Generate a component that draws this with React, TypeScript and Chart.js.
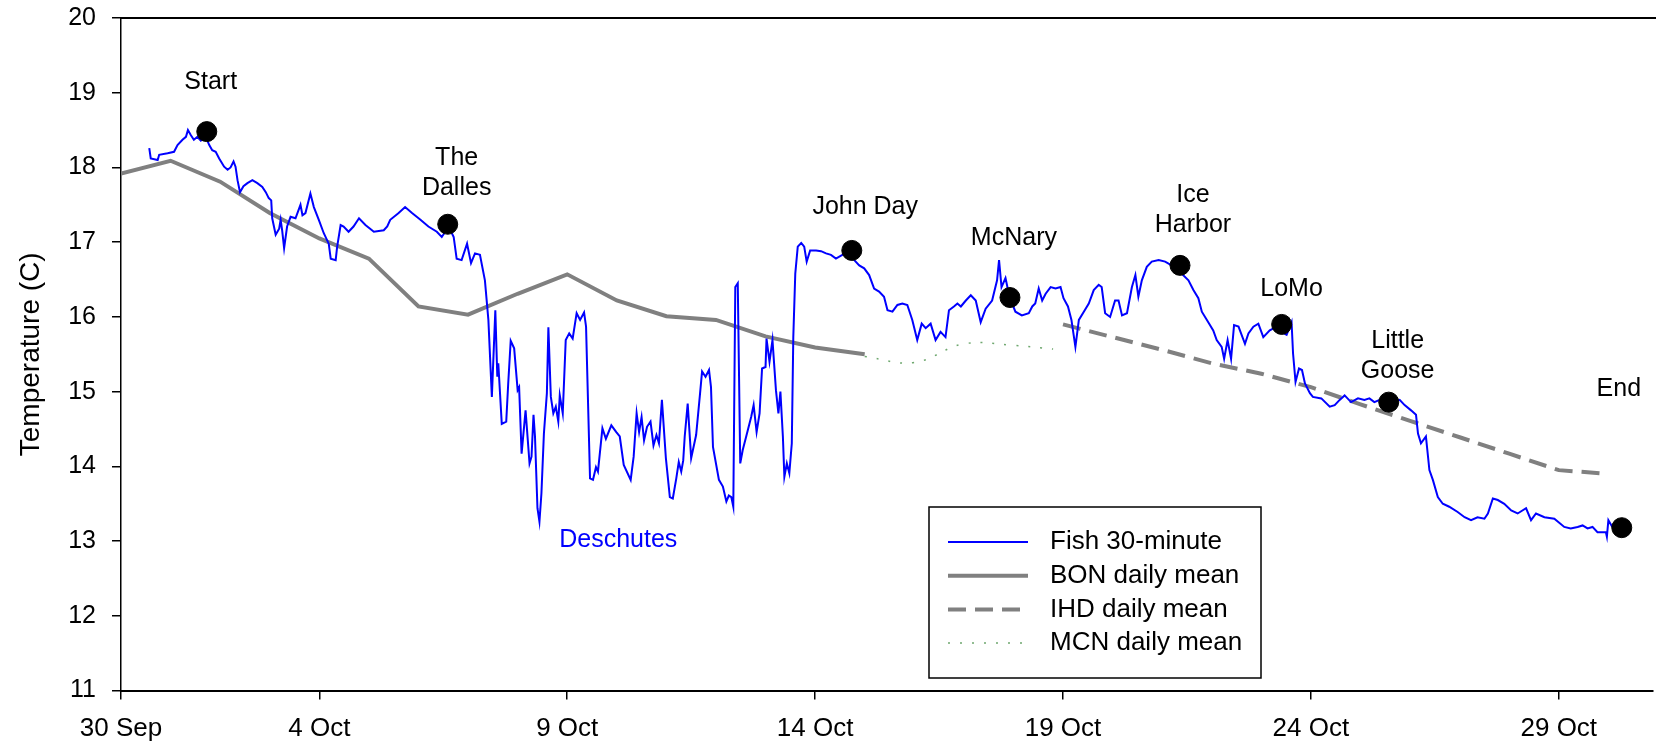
import React, { useEffect, useRef } from "react";
import { Chart, registerables } from "chart.js";

Chart.register(...registerables);

const FONT = "'Liberation Sans', Arial, sans-serif";

// Axis setup
const tickDays = [0, 4, 9, 14, 19, 24, 29];
const tickLabels = ["30 Sep", "4 Oct", "9 Oct", "14 Oct", "19 Oct", "24 Oct", "29 Oct"];
const xMin = 0;
const xMax = 30.9;
const yMin = 11;
const yMax = 20;

// Fish 30-minute temperature (days after 30 Sep, deg C)
const fishDays = [
  0.57, 0.6, 0.74, 0.77, 0.94, 1.07, 1.14, 1.24, 1.31, 1.35, 1.41, 1.47, 1.54, 1.61, 1.71, 1.78, 1.84, 1.91, 1.98,
  2.08, 2.15, 2.21, 2.27, 2.31, 2.35, 2.4, 2.47, 2.55, 2.65, 2.75, 2.85, 2.92, 2.98, 3.03, 3.05, 3.12, 3.19, 3.22,
  3.25, 3.29, 3.35, 3.42, 3.52, 3.62, 3.66, 3.72, 3.82, 3.89, 3.99, 4.09, 4.19, 4.23, 4.33, 4.36, 4.43, 4.49, 4.59,
  4.69, 4.8, 4.93, 5.1, 5.3, 5.37, 5.43, 5.6, 5.73, 5.87, 6.04, 6.2, 6.37, 6.47, 6.61, 6.71, 6.77, 6.87, 6.98, 7.06,
  7.14, 7.24, 7.34, 7.41, 7.48, 7.55, 7.59, 7.61, 7.68, 7.77, 7.81, 7.86, 7.93, 8.0, 8.03, 8.08, 8.16, 8.24, 8.28,
  8.32, 8.35, 8.4, 8.44, 8.48, 8.53, 8.59, 8.62, 8.67, 8.72, 8.77, 8.82, 8.85, 8.91, 8.97, 9.04, 9.11, 9.19, 9.26,
  9.34, 9.38, 9.46, 9.52, 9.58, 9.62, 9.71, 9.78, 9.89, 9.99, 10.06, 10.14, 10.28, 10.34, 10.4, 10.45, 10.5, 10.55,
  10.61, 10.68, 10.74, 10.8, 10.85, 10.91, 10.99, 11.07, 11.13, 11.2, 11.25, 11.3, 11.34, 11.37, 11.43, 11.5, 11.6,
  11.68, 11.72, 11.79, 11.86, 11.9, 11.94, 12.06, 12.14, 12.21, 12.26, 12.31, 12.35, 12.39, 12.44, 12.49, 12.54,
  12.61, 12.71, 12.76, 12.82, 12.88, 12.93, 13.0, 13.02, 13.08, 13.14, 13.21, 13.26, 13.3, 13.35, 13.38, 13.43,
  13.48, 13.53, 13.56, 13.6, 13.65, 13.72, 13.78, 13.83, 13.9, 14.02, 14.12, 14.22, 14.32, 14.42, 14.55, 14.65,
  14.79, 14.89, 14.99, 15.09, 15.19, 15.29, 15.39, 15.46, 15.56, 15.66, 15.76, 15.86, 15.96, 16.06, 16.15, 16.23,
  16.33, 16.43, 16.53, 16.63, 16.7, 16.8, 16.87, 16.94, 17.04, 17.14, 17.24, 17.34, 17.44, 17.57, 17.67, 17.71,
  17.76, 17.84, 17.92, 18.04, 18.17, 18.31, 18.38, 18.44, 18.51, 18.58, 18.65, 18.75, 18.85, 18.95, 19.01, 19.1,
  19.17, 19.25, 19.32, 19.42, 19.52, 19.62, 19.72, 19.78, 19.85, 19.95, 20.05, 20.12, 20.19, 20.29, 20.39, 20.46,
  20.52, 20.59, 20.69, 20.79, 20.93, 21.06, 21.19, 21.39, 21.53, 21.63, 21.73, 21.8, 21.93, 22.03, 22.1, 22.2,
  22.25, 22.32, 22.39, 22.45, 22.54, 22.67, 22.74, 22.84, 22.94, 23.04, 23.17, 23.31, 23.41, 23.51, 23.61, 23.64,
  23.69, 23.76, 23.82, 23.88, 23.98, 24.04, 24.21, 24.38, 24.48, 24.58, 24.68, 24.81, 24.95, 25.08, 25.18, 25.28,
  25.39, 25.55, 25.79, 25.89, 26.02, 26.12, 26.16, 26.22, 26.32, 26.39, 26.46, 26.56, 26.66, 26.79, 26.96, 27.1,
  27.23, 27.36, 27.5, 27.57, 27.67, 27.77, 27.9, 28.04, 28.17, 28.34, 28.44, 28.54, 28.71, 28.91, 29.11, 29.24,
  29.38, 29.48, 29.58, 29.68, 29.78, 29.95, 29.97, 30.0, 30.08,
];
const fishTemps = [
  18.26, 18.12, 18.1, 18.17, 18.19, 18.21, 18.3, 18.37, 18.41, 18.5, 18.43, 18.37, 18.41, 18.36, 18.41, 18.3, 18.23,
  18.21, 18.12, 18.01, 17.97, 18.0, 18.08, 18.01, 17.83, 17.67, 17.75, 17.79, 17.83, 17.79, 17.74, 17.67, 17.59,
  17.56, 17.32, 17.1, 17.18, 17.3, 17.16, 16.92, 17.21, 17.34, 17.32, 17.5, 17.36, 17.39, 17.65, 17.47, 17.3, 17.12,
  16.98, 16.78, 16.76, 16.94, 17.23, 17.21, 17.14, 17.21, 17.32, 17.23, 17.14, 17.16, 17.21, 17.3, 17.39, 17.47,
  17.39, 17.3, 17.21, 17.14, 17.07, 17.21, 17.07, 16.78, 16.76, 16.98, 16.72, 16.85, 16.83, 16.49, 15.96, 14.93,
  16.09, 15.2, 15.38, 14.57, 14.6, 15.11, 15.68, 15.58, 15.02, 15.06, 14.17, 14.75, 14.04, 14.13, 14.69, 14.4, 13.44,
  13.26, 13.64, 14.44, 14.98, 15.86, 14.93, 14.71, 14.8, 14.6, 14.95, 14.71, 15.69, 15.78, 15.71, 16.05, 15.96,
  16.06, 15.87, 13.84, 13.82, 13.99, 13.93, 14.51, 14.37, 14.55, 14.46, 14.4, 14.02, 13.82, 14.13, 14.71, 14.46,
  14.66, 14.35, 14.53, 14.6, 14.28, 14.42, 14.31, 14.89, 14.11, 13.59, 13.57, 13.84, 14.06, 13.93, 14.08, 14.4,
  14.84, 14.11, 14.42, 14.98, 15.27, 15.2, 15.29, 15.06, 14.26, 13.82, 13.73, 13.53, 13.61, 13.59, 13.46, 16.4,
  16.45, 14.04, 14.22, 14.4, 14.66, 14.82, 14.46, 14.71, 15.31, 15.33, 15.71, 15.4, 15.69, 15.02, 14.71, 15.0, 14.4,
  13.86, 14.04, 13.91, 14.31, 15.73, 16.58, 16.94, 16.99, 16.94, 16.74, 16.89, 16.89, 16.88, 16.85, 16.83, 16.78,
  16.83, 16.87, 16.76, 16.69, 16.65, 16.56, 16.38, 16.34, 16.27, 16.09, 16.07, 16.16, 16.18, 16.16, 15.96, 15.69,
  15.91, 15.85, 15.91, 15.69, 15.8, 15.73, 16.09, 16.14, 16.18, 16.14, 16.22, 16.29, 16.22, 15.93, 16.11, 16.22,
  16.49, 16.76, 16.4, 16.52, 16.27, 16.07, 16.02, 16.05, 16.14, 16.18, 16.38, 16.22, 16.31, 16.4, 16.38, 16.4,
  16.25, 16.14, 15.96, 15.6, 15.96, 16.07, 16.18, 16.36, 16.43, 16.4, 16.05, 16.0, 16.22, 16.22, 16.02, 16.05,
  16.4, 16.56, 16.27, 16.49, 16.67, 16.74, 16.76, 16.74, 16.69, 16.58, 16.49, 16.36, 16.25, 16.07, 15.93, 15.82,
  15.69, 15.6, 15.44, 15.69, 15.44, 15.89, 15.87, 15.64, 15.78, 15.87, 15.91, 15.73, 15.82, 15.87, 15.8, 15.76,
  15.93, 15.51, 15.13, 15.31, 15.29, 15.11, 14.98, 14.93, 14.91, 14.8, 14.82, 14.89, 14.95, 14.86, 14.91, 14.89,
  14.91, 14.86, 14.89, 14.85, 14.89, 14.82, 14.75, 14.69, 14.44, 14.31, 14.4, 13.95, 13.82, 13.59, 13.5, 13.46,
  13.39, 13.32, 13.28, 13.32, 13.3, 13.37, 13.57, 13.55, 13.5, 13.41, 13.37, 13.44, 13.28, 13.37, 13.32, 13.3,
  13.19, 13.17, 13.19, 13.21, 13.17, 13.19, 13.12, 13.12, 13.06, 13.28, 13.19,
];

// BON daily mean
const bonDays = [0, 1, 2, 3, 4, 5, 6, 7, 8, 9, 10, 11, 12, 13, 14, 15];
const bonTemps = [17.92, 18.09, 17.81, 17.39, 17.05, 16.78, 16.14, 16.03, 16.31, 16.57, 16.22, 16.01, 15.96, 15.74, 15.59, 15.5];

// MCN daily mean
const mcnDays = [15, 16, 17, 18, 18.8];
const mcnTemps = [15.47, 15.39, 15.64, 15.62, 15.57];

// IHD daily mean
const ihdDays = [19, 20, 21, 22, 23, 24, 25, 26, 27, 28, 29, 30];
const ihdTemps = [15.9, 15.73, 15.56, 15.38, 15.24, 15.06, 14.83, 14.61, 14.39, 14.17, 13.95, 13.9];

// Dam passage markers
const siteNames = [["Start"], ["The", "Dalles"], ["John Day"], ["McNary"], ["Ice", "Harbor"], ["LoMo"], ["Little", "Goose"], ["End"]];
const siteDays = [1.73, 6.59, 14.74, 17.93, 21.36, 23.41, 25.57, 30.27];
const siteTemps = [18.48, 17.24, 16.89, 16.26, 16.69, 15.9, 14.86, 13.18];
const labelDays = [1.81, 6.77, 15.01, 18.01, 21.62, 23.61, 25.75, 30.21];
const labelTemps = [19.14, 17.93, 17.47, 17.05, 17.43, 16.37, 15.48, 15.04];

const riverName = "Deschutes";
const riverDay = 10.03;
const riverTemp = 13.01;

const legendLabels = ["Fish 30-minute", "BON daily mean", "IHD daily mean", "MCN daily mean"];

const toXY = (xs: number[], ys: number[]) => xs.map((x, i) => ({ x, y: ys[i] }));

const annotatePlugin = {
  id: "annotate",
  afterDatasetsDraw(chart: any) {
    const { ctx, chartArea: ca, scales } = chart;
    const x = scales.x;
    const y = scales.y;
    ctx.save();
    // top frame line
    ctx.strokeStyle = "#000";
    ctx.lineWidth = 2;
    ctx.beginPath();
    ctx.moveTo(ca.left, ca.top);
    ctx.lineTo(chart.width, ca.top);
    ctx.stroke();

    ctx.font = `25px ${FONT}`;
    ctx.textAlign = "center";
    ctx.textBaseline = "middle";
    ctx.fillStyle = "#000";
    const lh = 30;
    siteNames.forEach((lines, i) => {
      const cx = x.getPixelForValue(labelDays[i]);
      const cy = y.getPixelForValue(labelTemps[i]);
      lines.forEach((t, j) => {
        ctx.fillText(t, cx, cy + (j - (lines.length - 1) / 2) * lh);
      });
    });
    ctx.fillStyle = "#0000ff";
    ctx.fillText(riverName, x.getPixelForValue(riverDay), y.getPixelForValue(riverTemp));
    ctx.restore();
  },
  afterDraw(chart: any) {
    const { ctx, chartArea: ca } = chart;
    const ds = chart.data.datasets;
    const left = ca.left + 808;
    const top = ca.bottom - 183.6;
    const w = 332;
    const h = 171;
    ctx.save();
    ctx.fillStyle = "#fff";
    ctx.fillRect(left, top, w, h);
    ctx.strokeStyle = "#000";
    ctx.lineWidth = 1.5;
    ctx.strokeRect(left, top, w, h);
    const styles = [ds[1], ds[2], ds[3], ds[4]];
    styles.forEach((d: any, i: number) => {
      const ry = top + 35 + i * 33.7;
      ctx.strokeStyle = d.borderColor;
      ctx.lineWidth = d.borderWidth;
      ctx.setLineDash(d.borderDash || []);
      ctx.beginPath();
      ctx.moveTo(left + 19, ry);
      ctx.lineTo(left + 99, ry);
      ctx.stroke();
      ctx.setLineDash([]);
      ctx.fillStyle = "#000";
      ctx.font = `26px ${FONT}`;
      ctx.textAlign = "left";
      ctx.textBaseline = "middle";
      ctx.fillText(legendLabels[i], left + 121, ry);
    });
    ctx.restore();
  },
};

export default function App() {
  const ref = useRef<HTMLCanvasElement>(null);
  useEffect(() => {
    const chart = new Chart(ref.current as HTMLCanvasElement, {
      type: "scatter",
      data: {
        datasets: [
          {
            label: "Sites",
            data: toXY(siteDays, siteTemps),
            pointRadius: 10,
            pointBackgroundColor: "#000",
            pointBorderColor: "#000",
            showLine: false,
          } as any,
          {
            label: legendLabels[0],
            data: toXY(fishDays, fishTemps),
            showLine: true,
            borderColor: "#0000ff",
            borderWidth: 2,
            pointRadius: 0,
            tension: 0,
          },
          {
            label: legendLabels[1],
            data: toXY(bonDays, bonTemps),
            showLine: true,
            borderColor: "#808080",
            borderWidth: 4,
            pointRadius: 0,
            tension: 0,
          },
          {
            label: legendLabels[2],
            data: toXY(ihdDays, ihdTemps),
            showLine: true,
            borderColor: "#808080",
            borderWidth: 4,
            borderDash: [18, 9],
            pointRadius: 0,
            tension: 0,
          },
          {
            label: legendLabels[3],
            data: toXY(mcnDays, mcnTemps),
            showLine: true,
            borderColor: "#6fa86f",
            borderWidth: 1.5,
            borderDash: [2, 10],
            pointRadius: 0,
            tension: 0.4,
          },
        ],
      },
      options: {
        animation: false,
        responsive: false,
        devicePixelRatio: 1,
        layout: { padding: { top: 18, right: 0, bottom: 0, left: 0 } },
        plugins: {
          legend: { display: false },
          tooltip: { enabled: false },
        },
        scales: {
          x: {
            type: "linear",
            min: xMin,
            max: xMax,
            afterBuildTicks: (s: any) => {
              s.ticks = tickDays.map((v) => ({ value: v }));
            },
            afterFit: (s: any) => {
              s.height = 55.4;
              s.paddingRight = 0;
              s.paddingLeft = 0;
            },
            ticks: {
              autoSkip: false,
              maxRotation: 0,
              padding: 14,
              color: "#000",
              font: { size: 26, family: FONT },
              callback: (v: any) => {
                const i = tickDays.indexOf(Number(v));
                return i >= 0 ? tickLabels[i] : "";
              },
            },
            grid: { drawOnChartArea: false, tickLength: 9, color: "#000", lineWidth: 1.5 },
            border: { color: "#000", width: 2 },
          },
          y: {
            min: yMin,
            max: yMax,
            afterFit: (s: any) => {
              s.width = 121;
              s.paddingTop = 0;
              s.paddingBottom = 0;
            },
            ticks: {
              stepSize: 1,
              padding: 16,
              color: "#000",
              font: { size: 25, family: FONT },
            },
            grid: { drawOnChartArea: false, tickLength: 9, color: "#000", lineWidth: 1.5 },
            border: { color: "#000", width: 1.5 },
            title: {
              display: true,
              text: "Temperature (C)",
              color: "#000",
              font: { size: 28, family: FONT },
              padding: { top: 14, bottom: 0 },
            },
          },
        },
      },
      plugins: [annotatePlugin],
    } as any);
    return () => chart.destroy();
  }, []);

  return (
    <div style={{ position: "fixed", left: 0, top: 0, width: 1656, height: 746, background: "#fff", overflow: "hidden" }}>
      <canvas ref={ref} width={1664} height={746} style={{ display: "block", width: 1664, height: 746 }} />
    </div>
  );
}
